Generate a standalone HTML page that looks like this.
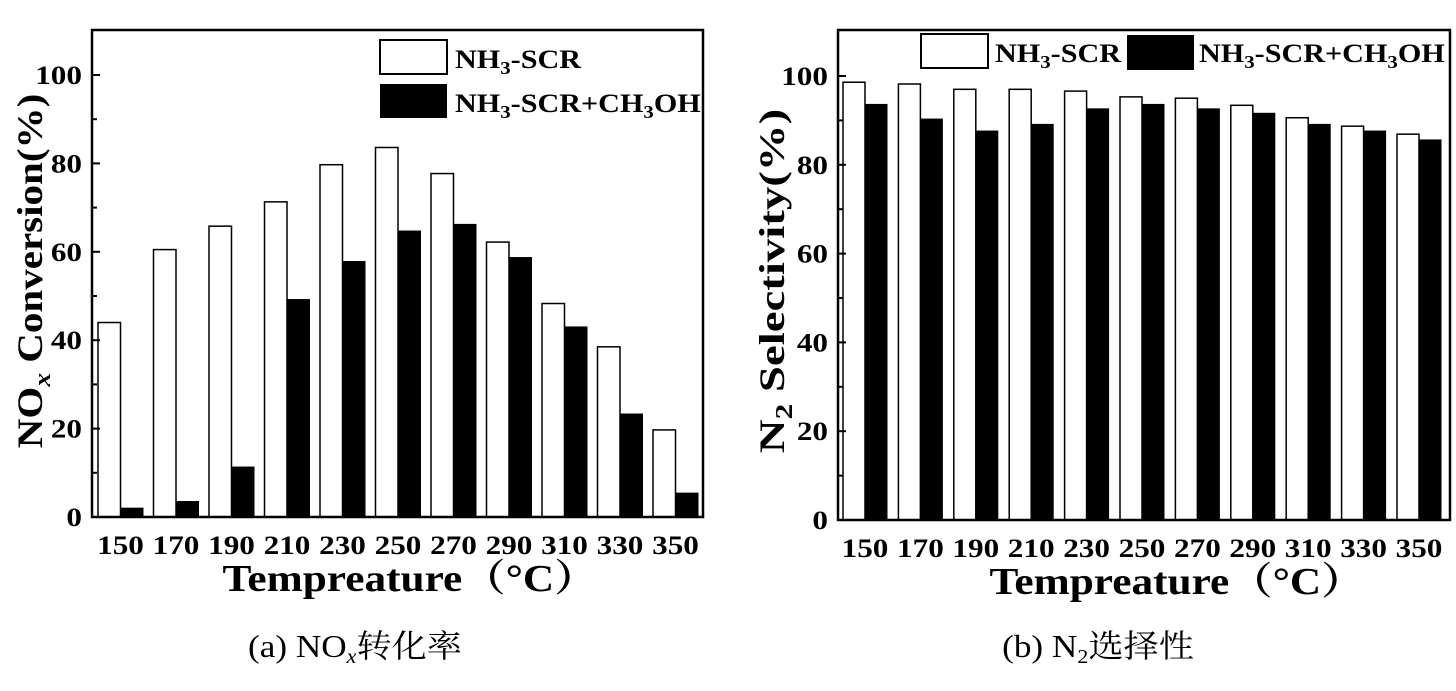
<!DOCTYPE html>
<html><head><meta charset="utf-8"><style>
body{margin:0;background:#fff;}
svg text{font-family:"Liberation Serif","Noto Serif CJK SC",serif;}
</style></head><body>
<svg id="c" width="1456" height="686" xmlns="http://www.w3.org/2000/svg"></svg>
<script>
const categories=["150","170","190","210","230","250","270","290","310","330","350"];
const noxScr=[44,60.5,65.8,71.3,79.7,83.6,77.7,62.2,48.3,38.5,19.7];
const noxMeoh=[2,3.5,11.3,49.2,57.8,64.7,66.2,58.7,43,23.3,5.4];
const n2Scr=[98.6,98.2,97,97,96.6,95.3,95,93.4,90.6,88.7,86.9];
const n2Meoh=[93.6,90.3,87.6,89.1,92.6,93.6,92.6,91.6,89.1,87.6,85.6];
const yTicks=[0,20,40,60,80,100];
const NS="http://www.w3.org/2000/svg";
const svg=document.getElementById('c');
function mk(t,a,p){const e=document.createElementNS(NS,t);for(const k in a)e.setAttribute(k,a[k]);(p||svg).appendChild(e);return e;}
function chart(cfg){
  const g=mk('g',{});
  
  
  const y=v=>cfg.y0-(cfg.y0-cfg.y100)*v/100;
  const gw=cfg.gw, bw=cfg.bw;
  cfg.s1.forEach((v,i)=>{
    const x=cfg.bx+i*gw;
    const r=mk('rect',{x:x,y:y(v),width:bw,height:cfg.y0-y(v),fill:'#fff',stroke:'#000','stroke-width':1.5},g);
    
    
    const v2=cfg.s2[i];
    const r2=mk('rect',{x:x+bw,y:y(v2),width:bw,height:cfg.y0-y(v2),fill:'#000',stroke:'#000','stroke-width':1},g);
    
    
    const t=mk('text',{x:0,y:0,transform:'translate('+(x+bw)+','+(cfg.y0+37)+') scale(1.2,1)','font-size':26,'font-weight':'bold','text-anchor':'middle'},g);
    t.textContent=categories[i];
    
    
  });
  for(let v=0;v<=100;v+=10){
    const major=v%20===0;
    mk('line',{x1:cfg.x0,x2:cfg.x0+(major?8:5),y1:y(v),y2:y(v),stroke:'#000','stroke-width':2},g);
  }
  yTicks.forEach(v=>{
    const t=mk('text',{x:0,y:0,transform:'translate('+(cfg.x0-10)+','+(y(v)+9)+') scale(1.2,1)','font-size':26,'font-weight':'bold','text-anchor':'end'},g);
    t.textContent=v;
    
    
  });
  const f=mk('rect',{x:cfg.x0,y:cfg.top,width:cfg.x1-cfg.x0,height:cfg.y0-cfg.top,fill:'none',stroke:'#000','stroke-width':2.5},g);
  
  
  return g;
}
chart({name:'nox-conversion-chart',x0:92,x1:703,top:30,y0:517,y100:75,bx:98,gw:55.5,bw:22.5,s1:noxScr,s2:noxMeoh});
chart({name:'n2-selectivity-chart',x0:838,x1:1450,top:30,y0:520,y100:76,bx:843,gw:55.4,bw:22,s1:n2Scr,s2:n2Meoh});
</script>
<svg width="1456" height="686" style="position:absolute;left:0;top:0" xmlns="http://www.w3.org/2000/svg">
<style>text{font-family:"Liberation Serif","Noto Serif CJK SC",serif;}</style>
<g>
<rect x="380" y="40" width="67" height="34" fill="#fff" stroke="#000" stroke-width="2"/>
<text transform="translate(455,68) scale(1.16,1)" font-size="26" font-weight="bold">NH<tspan font-size="18" dy="6">3</tspan><tspan dy="-6">-SCR</tspan></text>
<rect x="380" y="84" width="67" height="34" fill="#000"/>
<text transform="translate(455,112) scale(1.16,1)" font-size="26" font-weight="bold">NH<tspan font-size="18" dy="6">3</tspan><tspan dy="-6">-SCR+CH</tspan><tspan font-size="18" dy="6">3</tspan><tspan dy="-6">OH</tspan></text>
</g>
<g>
<rect x="921" y="34" width="67" height="34" fill="#fff" stroke="#000" stroke-width="2"/>
<text transform="translate(995,62) scale(1.16,1)" font-size="26" font-weight="bold">NH<tspan font-size="18" dy="6">3</tspan><tspan dy="-6">-SCR</tspan></text>
<rect x="1127" y="35" width="67" height="35" fill="#000"/>
<text transform="translate(1199,62) scale(1.16,1)" font-size="26" font-weight="bold">NH<tspan font-size="18" dy="6">3</tspan><tspan dy="-6">-SCR+CH</tspan><tspan font-size="18" dy="6">3</tspan><tspan dy="-6">OH</tspan></text>
</g>
<text transform="translate(410,591) scale(1.14,1)" font-size="38" font-weight="bold" text-anchor="middle">Tempreature（°C）</text>
<text transform="translate(1177,594) scale(1.14,1)" font-size="38" font-weight="bold" text-anchor="middle">Tempreature（°C）</text>
<text transform="translate(42,271) rotate(-90) scale(1.14,1)" font-size="36" font-weight="bold" text-anchor="middle">NO<tspan font-size="24" dy="8" font-style="italic">x</tspan><tspan dy="-8"> Conversion(%)</tspan></text>
<text transform="translate(784,281) rotate(-90) scale(1.3,1)" font-size="36" font-weight="bold" text-anchor="middle">N<tspan font-size="24" dy="8">2</tspan><tspan dy="-8"> Selectivity(%)</tspan></text>
<text transform="translate(355,657) scale(1.1,1)" font-size="32" text-anchor="middle">(a) NO<tspan font-size="20" dy="6" font-style="italic">x</tspan><tspan dy="-6">转化率</tspan></text>
<text transform="translate(1098,657) scale(1.1,1)" font-size="32" text-anchor="middle">(b) N<tspan font-size="20" dy="6">2</tspan><tspan dy="-6">选择性</tspan></text>
</svg>
</body></html>
